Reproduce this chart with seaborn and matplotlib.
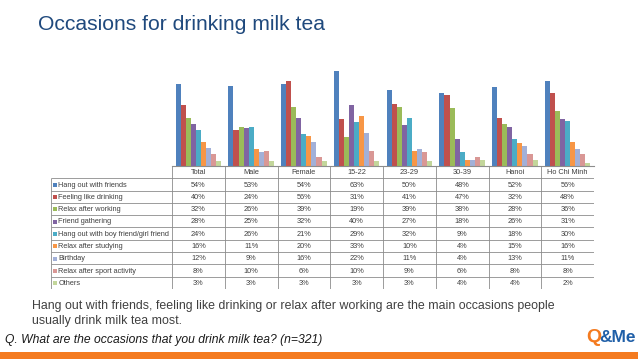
import pandas as pd
import numpy as np
import matplotlib.pyplot as plt
import seaborn as sns
from matplotlib.patches import Rectangle

#chart data
groups = ['Total', 'Male', 'Female', '15-22', '23-29', '30-39', 'Hanoi', 'Ho Chi Minh']
occasions = ['Hang out with friends', 'Feeling like drinking', 'Relax after working',
             'Friend gathering', 'Hang out with boy friend/girl friend', 'Relax after studying',
             'Birthday', 'Relax after sport activity', 'Others']
hang_out = [54, 53, 54, 63, 50, 48, 52, 56]
feeling_drinking = [40, 24, 56, 31, 41, 47, 32, 48]
relax_working = [32, 26, 39, 19, 39, 38, 28, 36]
friend_gathering = [28, 25, 32, 40, 27, 18, 26, 31]
boy_girl_friend = [24, 26, 21, 29, 32, 9, 18, 30]
relax_studying = [16, 11, 20, 33, 10, 4, 15, 16]
birthday = [12, 9, 16, 22, 11, 4, 13, 11]
relax_sport = [8, 10, 6, 10, 9, 6, 8, 8]
others = [3, 3, 3, 3, 3, 4, 4, 2]

colors = ['#4F81BD', '#C0504D', '#9BBB59', '#8064A2', '#4BACC6',
          '#F79646', '#A2B0D8', '#D99795', '#C3D69B']

series = [hang_out, feeling_drinking, relax_working, friend_gathering, boy_girl_friend,
          relax_studying, birthday, relax_sport, others]
rows = []
for occ, vals in zip(occasions, series):
    for g, v in zip(groups, vals):
        rows.append({'group': g, 'occasion': occ, 'value': v})
df = pd.DataFrame(rows)

sns.set_style('white')
plt.rcParams['font.family'] = ['Liberation Sans', 'DejaVu Sans']

W, H = 638, 359
fig = plt.figure(figsize=(W / 100, H / 100), dpi=100)

def box(x0, y0, x1, y1):
    return [x0 / W, 1 - y1 / H, (x1 - x0) / W, (y1 - y0) / H]

#bar chart
ax = fig.add_axes(box(172, 60, 594, 166))
sns.barplot(data=df, x='group', y='value', hue='occasion', order=groups,
            hue_order=occasions, palette=colors, width=0.86, saturation=1,
            linewidth=0, legend=False, ax=ax)
ax.set_ylim(0, 70)
ax.set_xlim(-0.5, 7.5)
ax.set_xlabel('')
ax.set_ylabel('')
ax.set_xticks([])
ax.set_yticks([])
for s in ['top', 'left', 'right']:
    ax.spines[s].set_visible(False)
ax.spines['bottom'].set_color('#8C8C8C')
ax.spines['bottom'].set_linewidth(0.8)
ax.patch.set_alpha(0)

#data table below the bars
top, rh = 166, 12.3
left, lab_right, right = 51, 172, 594
cw = (right - lab_right) / len(groups)
bottom = top + rh * (len(occasions) + 1)
tax = fig.add_axes(box(left, top, right, bottom))
tax.set_xlim(left, right)
tax.set_ylim(bottom, top)
tax.axis('off')
lc, lw = '#8C8C8C', 0.6
tax.hlines(top, lab_right, right, color=lc, lw=lw)
for k in range(1, len(occasions) + 2):
    tax.hlines(top + rh * k, left, right, color=lc, lw=lw)
tax.vlines(left, top + rh, bottom, color=lc, lw=lw)
for j in range(len(groups) + 1):
    tax.vlines(lab_right + cw * j, top, bottom, color=lc, lw=lw)

tc = '#404040'
fs = 5.3
for j, g in enumerate(groups):
    tax.text(lab_right + cw * (j + 0.5), top + rh * 0.55, g, ha='center', va='center',
             fontsize=fs, color=tc)
for i, (occ, vals) in enumerate(zip(occasions, series)):
    yc = top + rh * (i + 1.55)
    tax.add_patch(Rectangle((53.5, yc - 2.2), 4, 4, color=colors[i], lw=0))
    tax.text(58.5, yc, occ, ha='left', va='center', fontsize=fs, color=tc)
    for j, v in enumerate(vals):
        tax.text(lab_right + cw * (j + 0.5), yc, f'{v}%', ha='center', va='center',
                 fontsize=fs, color=tc)

#titles and notes
fig.text(38 / W, 1 - 25 / H, 'Occasions for drinking milk tea', fontsize=15.2,
         color='#1F497D', va='center', ha='left')
fig.text(32 / W, 1 - 306 / H, 'Hang out with friends, feeling like drinking or relax after working are the main occasions people',
         fontsize=8.9, color='#404040', va='center', ha='left')
fig.text(32 / W, 1 - 321 / H, 'usually drink milk tea most.',
         fontsize=8.9, color='#404040', va='center', ha='left')
fig.text(5 / W, 1 - 340 / H, 'Q. What are the occasions that you drink milk tea? (n=321)',
         fontsize=8.75, color='#1A1A1A', style='italic', va='center', ha='left')

#logo and bottom stripe
fig.text(586 / W, 1 - 337 / H, 'Q', fontsize=14, fontweight='bold', color='#F47B20',
         va='center', ha='left')
fig.text(636 / W, 1 - 337 / H, '&Me', fontsize=12.5, fontweight='bold', color='#1F5FA8',
         va='center', ha='right')
fig.patches.append(Rectangle((0, 0), 1, 7 / H, transform=fig.transFigure,
                             color='#F47B20', lw=0))

plt.savefig('out.png', dpi=100)
